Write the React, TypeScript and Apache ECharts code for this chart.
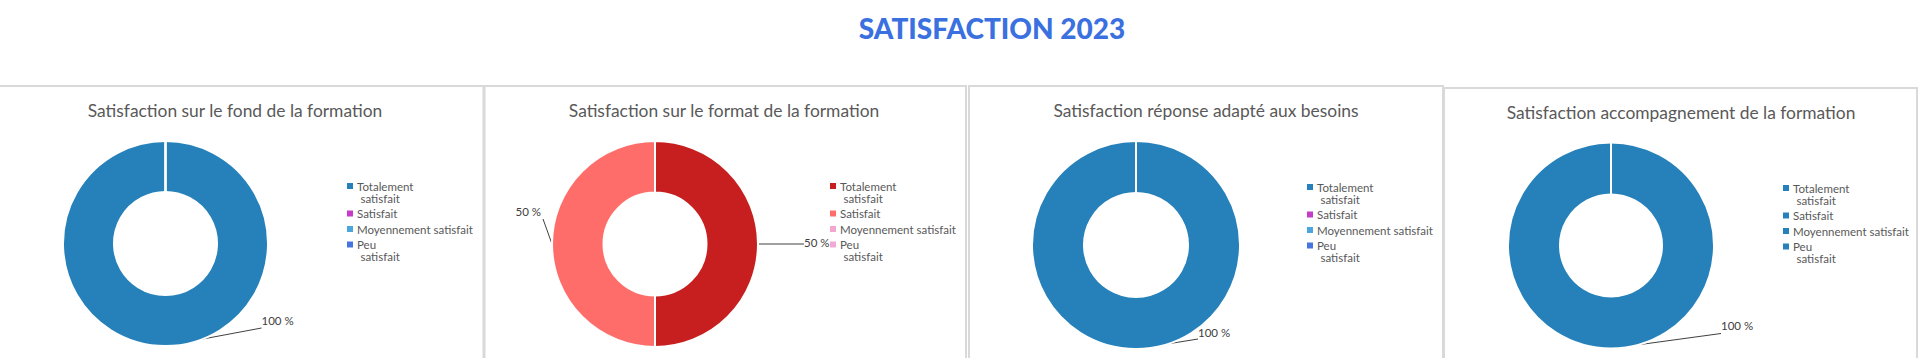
import React, { useEffect, useRef } from "react";
import * as echarts from "echarts";

// ---------- data ----------
const mainTitle = "SATISFACTION 2023";
const categories = ["Totalement satisfait", "Satisfait", "Moyennement satisfait", "Peu satisfait"];
const legendLines: Record<string, string[]> = {
  "Totalement satisfait": ["Totalement", "satisfait"],
  "Satisfait": ["Satisfait"],
  "Moyennement satisfait": ["Moyennement satisfait"],
  "Peu satisfait": ["Peu", "satisfait"],
};
const panelTitles = [
  "Satisfaction sur le fond de la formation",
  "Satisfaction sur le format de la formation",
  "Satisfaction réponse adapté aux besoins",
  "Satisfaction accompagnement de la formation",
];
const fondValues = [100, 0, 0, 0];
const formatValues = [50, 50, 0, 0];
const besoinsValues = [100, 0, 0, 0];
const accompagnementValues = [100, 0, 0, 0];
const allValues = [fondValues, formatValues, besoinsValues, accompagnementValues];

// ---------- styles / layout ----------
const palettes = [
  ["#2681BA", "#C73BC9", "#4BA6DD", "#4675E0"],
  ["#C71F1F", "#FF6D6A", "#F4A7CE", "#F2A9D4"],
  ["#2681BA", "#C73BC9", "#4BA6DD", "#4675E0"],
  ["#2681BA", "#2681BA", "#2681BA", "#2681BA"],
];
const layout = [
  { center: [165.5, 243.5], r: [51.5, 102.5], title: [235, 110], legend: [342, 180] },
  { center: [655, 244], r: [51.5, 103], title: [724, 110], legend: [825, 180] },
  { center: [1136, 245], r: [52, 104], title: [1206, 110], legend: [1302, 181] },
  { center: [1611, 245.5], r: [51, 103], title: [1681, 112], legend: [1778, 182] },
];
type Off = { dx: number; dy: number; align: string; va: string; tdx: number; tdy: number };
const labelOffsets: Record<number, Off>[] = [
  { 0: { dx: 96, dy: -18, align: "left", va: "bottom", tdx: 0, tdy: -2 } },
  {
    0: { dx: 46, dy: 0, align: "left", va: "middle", tdx: 0, tdy: -2 },
    1: { dx: -9, dy: -25, align: "right", va: "bottom", tdx: -2, tdy: -2 },
  },
  { 0: { dx: 62, dy: -10, align: "left", va: "bottom", tdx: 0, tdy: -1 } },
  { 0: { dx: 110, dy: -15, align: "left", va: "bottom", tdx: 0, tdy: -2 } },
];
const panels = [
  { x: -2, y: 86, w: 485.5, h: 300 },
  { x: 484.5, y: 86, w: 481.5, h: 300 },
  { x: 969, y: 86, w: 474, h: 300 },
  { x: 1444, y: 88, w: 473, h: 300 },
];
const FONT = "Lato, 'Open Sans', sans-serif";
const TEXT_GREY = "#595959";

export default function App() {
  const ref = useRef<HTMLDivElement>(null);
  useEffect(() => {
    if (!ref.current) return;
    const chart = echarts.init(ref.current, null, { renderer: "svg" });

    const titles: any[] = [
      {
        text: mainTitle,
        left: 992,
        top: 28,
        padding: 0,
        textAlign: "center",
        textVerticalAlign: "middle",
        textStyle: { fontFamily: FONT, fontSize: 28, fontWeight: 900, color: "#3A70E0" },
      },
    ];
    const legends: any[] = [];
    const series: any[] = [];

    allValues.forEach((values, ci) => {
      const L = layout[ci];
      const pal = palettes[ci];
      titles.push({
        text: panelTitles[ci],
        left: L.title[0],
        top: L.title[1],
        padding: 0,
        textAlign: "center",
        textVerticalAlign: "middle",
        textStyle: { fontFamily: FONT, fontSize: 17.4, fontWeight: "normal", color: TEXT_GREY },
      });

      const rich: any = {
        t: { fontFamily: FONT, fontSize: 11.5, color: TEXT_GREY, lineHeight: 12, padding: [0, 0, 0, 4] },
        t2: { fontFamily: FONT, fontSize: 11.5, color: TEXT_GREY, lineHeight: 12, padding: [0, 0, 0, 13.5] },
      };
      categories.forEach((_, k) => {
        rich["m" + k] = { width: 6, height: 6, backgroundColor: pal[k], verticalAlign: "middle" };
      });

      legends.push({
        orient: "vertical",
        left: L.legend[0],
        top: L.legend[1],
        padding: 0,
        itemGap: 3.5,
        icon: "none",
        itemWidth: 0,
        itemHeight: 6,
        selectedMode: false,
        data: categories,
        formatter: (name: string) => {
          const k = categories.indexOf(name);
          const lines = legendLines[name] || [name];
          let s = `{m${k}| }{t|${lines[0]}}`;
          for (let i = 1; i < lines.length; i++) s += `\n{t2|${lines[i]}}`;
          return s;
        },
        textStyle: { rich },
      });

      const offs = labelOffsets[ci];
      series.push({
        type: "pie",
        center: L.center,
        radius: L.r,
        startAngle: 90,
        clockwise: true,
        avoidLabelOverlap: false,
        silent: true,
        itemStyle: { borderColor: "#ffffff", borderWidth: 2 },
        label: {
          show: true,
          position: "outside",
          fontFamily: FONT,
          fontSize: 11.5,
          color: "#404040",
          formatter: (p: any) => `${p.percent} %`,
        },
        labelLine: { show: true, length: 10, length2: 10, lineStyle: { color: "#404040", width: 1 } },
        labelLayout: (params: any) => {
          const o = offs[params.dataIndex];
          const pts = params.labelLinePoints;
          if (!o || !pts) return {};
          const x0 = pts[0][0];
          const y0 = pts[0][1];
          const ex = x0 + o.dx;
          const ey = y0 + o.dy;
          return {
            x: ex + o.tdx,
            y: ey + o.tdy,
            align: o.align,
            verticalAlign: o.va,
            labelLinePoints: [
              [x0, y0],
              [ex, ey],
              [ex, ey],
            ],
          };
        },
        data: categories.map((name, k) => ({
          name,
          value: values[k],
          itemStyle: { color: pal[k] },
          label: { show: values[k] > 0 },
          labelLine: { show: values[k] > 0 },
        })),
      });
    });

    chart.setOption({
      animation: false,
      backgroundColor: "#ffffff",
      title: titles,
      legend: legends,
      series,
      graphic: panels.map((p) => ({
        type: "rect",
        shape: { x: p.x, y: p.y, width: p.w, height: p.h },
        style: { fill: "none", stroke: "#D9D9D9", lineWidth: 2 },
        silent: true,
        z: -1,
      })),
    });
    return () => chart.dispose();
  }, []);
  return (
    <div
      ref={ref}
      style={{ position: "absolute", left: 0, top: 0, width: 1920, height: 358 }}
    />
  );
}
